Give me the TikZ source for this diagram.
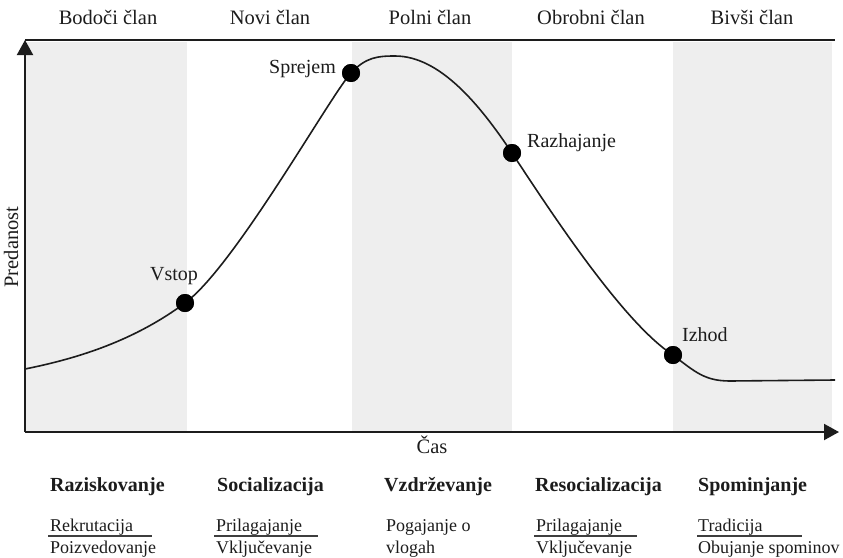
\documentclass[tikz,border=0pt]{standalone}
\usepackage{fontspec}
\setmainfont{Liberation Serif}
\usetikzlibrary{arrows.meta}
\definecolor{bandgray}{HTML}{EEEEEE}
\definecolor{ink}{HTML}{1C1C1C}
\begin{document}
\begin{tikzpicture}[x=1pt,y=-1pt,
  band/.style={fill=bandgray, draw=none},
  axisline/.style={draw=ink, line width=2pt},
  axisarrow/.style={axisline, -{Triangle[length=15pt,width=16pt]}},
  lifecurve/.style={draw=ink, line width=1.6pt},
  milestone/.style={circle, fill=black, draw=none, inner sep=0pt, minimum size=18pt},
  phase/.style={text=ink, anchor=base, inner sep=0pt, font=\fontsize{20.5}{24}\selectfont},
  event/.style={text=ink, anchor=base west, inner sep=0pt, font=\fontsize{20}{24}\selectfont},
  stage/.style={text=ink, anchor=base west, inner sep=0pt, font=\fontsize{20}{24}\selectfont\bfseries},
  task/.style={text=ink, anchor=base west, inner sep=0pt, font=\fontsize{18}{21}\selectfont},
  rule/.style={draw=ink!85, line width=1.6pt}
]
\useasboundingbox (0,0) rectangle (843,557);

% shaded columns
\fill[band] (25,42) rectangle (187,431);
\fill[band] (352,42) rectangle (512,431);
\fill[band] (673,42) rectangle (832,431);

% frame and axes
\coordinate (origin) at (25,432);
\coordinate (ytop) at (25,40);
\coordinate (topend) at (835,40);
\coordinate (xend) at (839,432);
\draw[axisline] (ytop) -- (topend);
\draw[axisarrow] (origin) -- (ytop);
\draw[axisarrow] (origin) -- (xend);

% membership roles along the top
\node[phase] (role1) at (108,24) {Bodoči član};
\node[phase] (role2) at (270,24) {Novi član};
\node[phase] (role3) at (430,24) {Polni član};
\node[phase] (role4) at (591,24) {Obrobni član};
\node[phase] (role5) at (752,24) {Bivši član};

% axis titles
\node[phase] (xlabel) at (432,453) {Čas};
\node[phase, rotate=90] (ylabel) at (18,247) {Predanost};

% milestones on the commitment curve
\node[milestone] (vstop) at (185,303) {};
\node[milestone] (sprejem) at (351,73) {};
\node[milestone] (razhajanje) at (512,153) {};
\node[milestone] (izhod) at (673,355) {};
\coordinate (start) at (25,369);
\coordinate (peak) at (395,56);
\coordinate (flat) at (730,381);
\coordinate (finish) at (835,380);

\draw[lifecurve] (start)
  .. controls (80,358) and (135,340) .. (vstop.center)
  .. controls (235,266) and (330,96) .. (sprejem.center)
  .. controls (366,57) and (378,56) .. (peak)
  .. controls (440,56) and (480,105) .. (razhajanje.center)
  .. controls (547,206) and (622,322) .. (izhod.center)
  .. controls (695,372) and (705,381) .. (flat)
  -- (finish);

% redraw the dots over the curve
\fill (vstop) circle[radius=9pt];
\fill (sprejem) circle[radius=9pt];
\fill (razhajanje) circle[radius=9pt];
\fill (izhod) circle[radius=9pt];

\node[event] (lvstop) at (150,280) {Vstop};
\node[event, anchor=base east] (lsprejem) at (336,73) {Sprejem};
\node[event] (lrazhajanje) at (527,147) {Razhajanje};
\node[event] (lizhod) at (682,341) {Izhod};

% stages of group socialization
\node[stage] (s1) at (50,491) {Raziskovanje};
\node[stage] (s2) at (217,491) {Socializacija};
\node[stage] (s3) at (384,491) {Vzdrževanje};
\node[stage] (s4) at (535,491) {Resocializacija};
\node[stage] (s5) at (698,491) {Spominjanje};

% tasks within each stage
\node[task] (t1a) at (50,531) {Rekrutacija};
\node[task] (t1b) at (50,553) {Poizvedovanje};
\draw[rule] (48,536) -- (152,536);

\node[task] (t2a) at (216,531) {Prilagajanje};
\node[task] (t2b) at (216,553) {Vključevanje};
\draw[rule] (214,536) -- (318,536);

\node[task] (t3a) at (386,531) {Pogajanje o};
\node[task] (t3b) at (386,553) {vlogah};

\node[task] (t4a) at (536,531) {Prilagajanje};
\node[task] (t4b) at (536,553) {Vključevanje};
\draw[rule] (534,536) -- (637,536);

\node[task] (t5a) at (698,531) {Tradicija};
\node[task] (t5b) at (698,553) {Obujanje spominov};
\draw[rule] (697,536) -- (802,536);
\end{tikzpicture}
\end{document}
